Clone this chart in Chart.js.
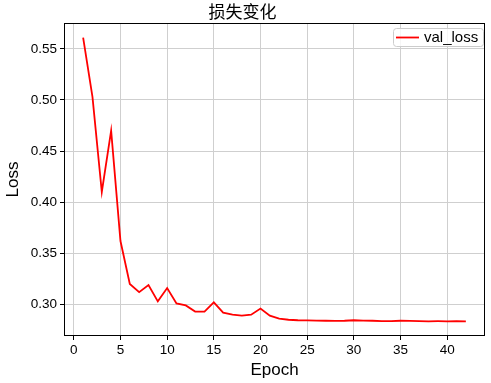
<!DOCTYPE html>
<html>
<head>
<meta charset="utf-8">
<script src="https://cdn.jsdelivr.net/npm/chart.js@4"></script>
<style>
  html, body { margin: 0; padding: 0; background: #fff; }
  #wrap { width: 491px; height: 383px; }
</style>
</head>
<body>
<div id="wrap"><canvas id="chart"></canvas></div>
<script>
const epochs = [];
for (let i = 1; i <= 42; i++) epochs.push(i);
const valLoss = [
  0.561, 0.503, 0.410, 0.470, 0.362, 0.320, 0.312, 0.319, 0.303, 0.316,
  0.301, 0.299, 0.293, 0.293, 0.302, 0.292, 0.290, 0.289, 0.290, 0.296,
  0.289, 0.286, 0.285, 0.2845, 0.2843, 0.2842, 0.284, 0.2838, 0.284, 0.2845,
  0.2842, 0.284, 0.2836, 0.2837, 0.284, 0.2838, 0.2836, 0.2835, 0.2836, 0.2835,
  0.2836, 0.2834
];
const xTicks = [0, 5, 10, 15, 20, 25, 30, 35, 40];
const yTicks = [0.30, 0.35, 0.40, 0.45, 0.50, 0.55];

const font = "'Liberation Sans', Arial, sans-serif";

// box around the plot + legend inside the axes (like matplotlib)
const frameAndLegend = {
  id: 'frameAndLegend',
  afterDraw(chart) {
    const { ctx, chartArea: a } = chart;
    ctx.save();
    ctx.strokeStyle = '#000';
    ctx.lineWidth = 1;
    ctx.strokeRect(a.left + 0.5, a.top + 0.5, a.right - a.left - 1, a.bottom - a.top - 1);

    const bx = a.right - 92, by = a.top + 5, bw = 90, bh = 18;
    ctx.fillStyle = 'rgba(255,255,255,0.8)';
    ctx.strokeStyle = '#cccccc';
    ctx.beginPath();
    ctx.roundRect(bx + 0.5, by + 0.5, bw, bh, 3);
    ctx.fill();
    ctx.stroke();
    ctx.strokeStyle = 'red';
    ctx.lineWidth = 1.8;
    ctx.beginPath();
    ctx.moveTo(bx + 3, by + 9.5);
    ctx.lineTo(bx + 26, by + 9.5);
    ctx.stroke();
    ctx.fillStyle = '#000';
    ctx.font = '15px ' + font;
    ctx.textBaseline = 'middle';
    ctx.fillText('val_loss', bx + 31, by + 10);
    ctx.restore();
  }
};

new Chart(document.getElementById('chart'), {
  type: 'line',
  data: {
    labels: epochs,
    datasets: [{
      label: 'val_loss',
      data: valLoss.map((v, i) => ({ x: epochs[i], y: v })),
      borderColor: 'red',
      borderWidth: 1.8,
      pointRadius: 0,
      tension: 0,
      fill: false
    }]
  },
  options: {
    responsive: true,
    maintainAspectRatio: false,
    animation: false,
    layout: { padding: { left: 0, right: 6, top: 0, bottom: 0 } },
    plugins: {
      legend: { display: false },
      tooltip: { enabled: false },
      title: {
        display: true,
        text: '损失变化',
        color: '#000',
        font: { family: "'Noto Sans CJK SC', sans-serif", size: 17, weight: 'normal', lineHeight: 1.2 },
        padding: { top: 1, bottom: 1.6 }
      }
    },
    scales: {
      x: {
        type: 'linear',
        min: -1.05,
        max: 44.05,
        afterBuildTicks: s => { s.ticks = xTicks.map(v => ({ value: v })); },
        afterFit: s => { s.height = 47; },
        grid: { color: '#cfcfcf', lineWidth: 1, tickColor: '#000', tickLength: 4 },
        border: { display: false },
        ticks: { color: '#000', font: { family: font, size: 13.5 }, padding: 2, maxRotation: 0 },
        title: { display: true, text: 'Epoch', color: '#000', font: { family: font, size: 17 }, padding: { top: 2, bottom: 2 } }
      },
      y: {
        min: 0.2691,
        max: 0.5753,
        afterBuildTicks: s => { s.ticks = yTicks.map(v => ({ value: v })); },
        afterFit: s => { s.width = 64; },
        grid: { color: '#cfcfcf', lineWidth: 1, tickColor: '#000', tickLength: 4 },
        border: { display: false },
        ticks: {
          color: '#000', font: { family: font, size: 13.5 }, padding: 3,
          callback: v => v.toFixed(2)
        },
        title: { display: true, text: 'Loss', color: '#000', font: { family: font, size: 17 }, padding: { top: 3, bottom: 3 } }
      }
    }
  },
  plugins: [frameAndLegend]
});
</script>
</body>
</html>
